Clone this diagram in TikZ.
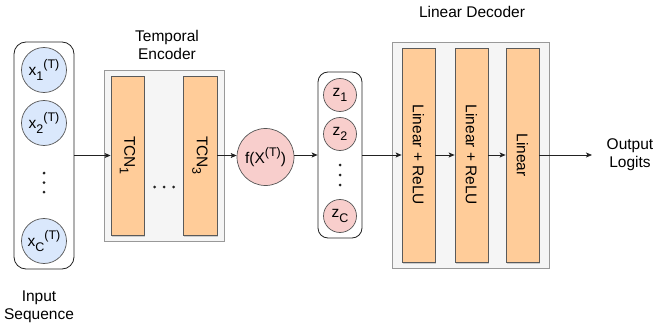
\documentclass[tikz,border=0pt]{standalone}
\usepackage{fontspec}
\setmainfont{Liberation Sans}
\usetikzlibrary{arrows.meta,shadows}
\definecolor{bluefill}{HTML}{DAE8FC}
\definecolor{redfill}{HTML}{F8CECC}
\definecolor{circstroke}{HTML}{555555}
\definecolor{orangefill}{HTML}{FFCC99}
\definecolor{orangestroke}{HTML}{5A5A5A}
\definecolor{grayfill}{HTML}{F5F5F5}
\definecolor{graystroke}{HTML}{999999}
\definecolor{linecol}{HTML}{222222}
\newcommand\lsub[1]{\raisebox{-0.3em}{\fontsize{12.5}{14}\selectfont #1}}
\newcommand\lsup[1]{\raisebox{0.45em}{\fontsize{12.5}{14}\selectfont #1}}
\tikzset{
  container/.style={draw=graystroke, fill=grayfill, inner sep=0pt, line width=0.9pt},
  colbox/.style={draw=linecol, fill=white, rounded corners=12pt, inner sep=0pt, line width=0.8pt},
  layerbox/.style={draw=orangestroke, fill=orangefill, inner sep=0pt, line width=0.8pt,
    drop shadow={shadow xshift=0.8pt, shadow yshift=-1.6pt, opacity=0.35}},
  bluecirc/.style={circle, draw=circstroke, fill=bluefill, minimum size=45pt, inner sep=0pt, line width=0.7pt},
  redcirc/.style={circle, draw=circstroke, fill=redfill, inner sep=0pt, line width=0.7pt},
  lbl/.style={align=center, inner sep=0pt},
  vlbl/.style={rotate=-90, inner sep=0pt},
  conn/.style={draw=linecol, line width=0.7pt, -{Stealth[length=6pt,width=5pt,inset=1.5pt]}},
}
\begin{document}
\begin{tikzpicture}[x=1pt,y=-1pt, font=\fontsize{15.5}{18.5}\selectfont]
\useasboundingbox (0,0) rectangle (654,329);

% input column
\node[colbox, minimum width=60pt, minimum height=227pt] (inbox) at (44,155.5) {};
\node[bluecirc] (x1) at (44,70) {x\lsub{1}\lsup{(T)}};
\node[bluecirc] (x2) at (44,123) {x\lsub{2}\lsup{(T)}};
\node[bluecirc] (xC) at (44,241) {x\lsub{C}\lsup{(T)}};
\fill[linecol] (44,173) circle (1.5) (44,182.5) circle (1.5) (44,192) circle (1.5);
\node[lbl] (inlabel) at (39,307) {Input\\Sequence};

% temporal encoder
\node[container, minimum width=120pt, minimum height=171pt] (enc) at (164,155.5) {};
\node[lbl] (enclabel) at (167,45) {Temporal\\Encoder};
\node[layerbox, minimum width=33pt, minimum height=159pt] (tcn1) at (127.5,155.5) {};
\node[layerbox, minimum width=34pt, minimum height=159pt] (tcn3) at (200,155.5) {};
\node[vlbl] (tcn1t) at (tcn1.center) {TCN\lsub{1}};
\node[vlbl] (tcn3t) at (tcn3.center) {TCN\lsub{3}};
\fill[linecol] (154.5,187) circle (1.5) (164,187) circle (1.5) (173.5,187) circle (1.5);

% embedding function
\node[redcirc, minimum size=57pt] (f) at (265.5,157) {f(X\lsup{(T)})};

% latent column
\node[colbox, rounded corners=10pt, minimum width=44pt, minimum height=166pt] (zbox) at (340,155) {};
\node[redcirc, minimum size=33pt] (z1) at (340,95) {z\lsub{1}};
\node[redcirc, minimum size=33pt] (z2) at (340,134) {z\lsub{2}};
\node[redcirc, minimum size=33pt] (zC) at (340,216) {z\lsub{C}};
\fill[linecol] (340,165) circle (1.5) (340,175) circle (1.5) (340,185) circle (1.5);

% linear decoder
\node[container, minimum width=157pt, minimum height=226pt] (dec) at (470.5,155) {};
\node[lbl] (declabel) at (472,12) {Linear Decoder};
\node[layerbox, minimum width=33pt, minimum height=214pt] (l1) at (418.5,155) {};
\node[layerbox, minimum width=33pt, minimum height=214pt] (l2) at (471.5,155) {};
\node[layerbox, minimum width=33pt, minimum height=214pt] (l3) at (522.5,155) {};
\node[vlbl] (l1t) at (l1.center) {Linear + ReLU};
\node[vlbl] (l2t) at (l2.center) {Linear + ReLU};
\node[vlbl] (l3t) at (l3.center) {Linear};

% output
\coordinate (out) at (592,155);
\node[lbl] (outlabel) at (630,154.5) {Output\\Logits};

% connectors
\draw[conn] (inbox.east |- tcn1.west) -- (tcn1.west);
\draw[conn] (tcn3.east) -- (f.west |- tcn3.east);
\draw[conn] (f.east |- zbox.west) -- (zbox.west);
\draw[conn] (zbox.east) -- (l1.west);
\draw[conn] (l1.east) -- (l2.west);
\draw[conn] (l2.east) -- (l3.west);
\draw[conn] (l3.east) -- (out);
\end{tikzpicture}
\end{document}
